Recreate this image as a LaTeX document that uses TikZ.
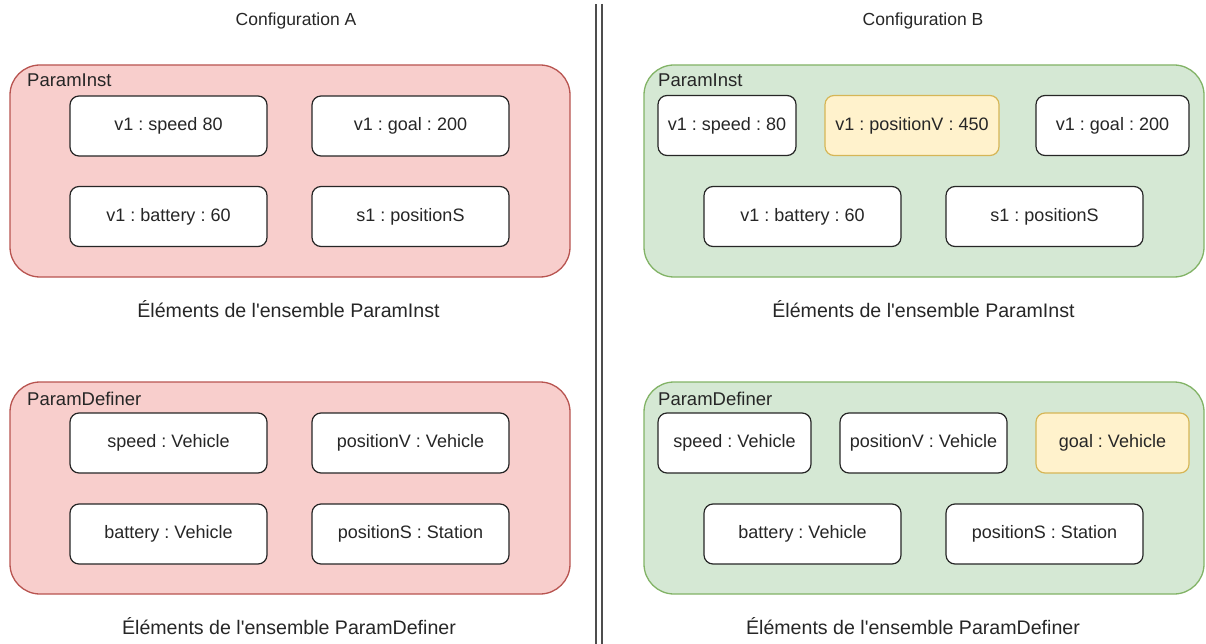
\documentclass[tikz,border=0pt]{standalone}
\usepackage{fontspec}
\setmainfont{Liberation Sans}
\usetikzlibrary{positioning}
\frenchspacing

\begin{document}
\begin{tikzpicture}[
    x=1pt, y=-1pt,
    font=\fontsize{17.5}{21}\selectfont
]

\definecolor{fillred}{HTML}{F8CECC}
\definecolor{borderred}{HTML}{B85450}

\definecolor{fillgreen}{HTML}{D5E8D4}
\definecolor{bordergreen}{HTML}{82B366}

\definecolor{fillyellow}{HTML}{FFF2CC}
\definecolor{borderyellow}{HTML}{D6B656}

\definecolor{mytext}{HTML}{262626}
\definecolor{sepline}{HTML}{4D4D4D}

\tikzset{
    panel/.style={
        rectangle,
        rounded corners=30pt,
        line width=1.3pt,
        minimum width=560pt,
        minimum height=212pt
    },
    elem/.style={
        rectangle,
        rounded corners=9pt,
        draw=mytext,
        fill=white,
        line width=1.2pt,
        minimum height=60pt,
        text=mytext,
        font=\fontsize{18}{21}\selectfont
    },
    newelem/.style={
        elem,
        draw=borderyellow,
        fill=fillyellow
    },
    tag/.style={
        anchor=base west,
        inner sep=0pt,
        text=mytext,
        font=\fontsize{18.5}{22}\selectfont
    },
    caption/.style={
        text=mytext,
        font=\fontsize{19.6}{23}\selectfont
    },
    title/.style={
        text=mytext
    }
}

\useasboundingbox (0,0) rectangle (1206,644);

% Titles
\node[title] (titleA) at (296,21) {Configuration A};
\node[title] (titleB) at (923,21) {Configuration B};

% Separator
\coordinate (sepTop) at (598.9,4);
\coordinate (sepBot) at (598.9,644);
\draw[draw=sepline, line width=2pt, double=white, double distance=4.3pt] (sepTop) -- (sepBot);

% Panels
\node[panel, draw=borderred, fill=fillred] (instA) at (290,171) {};
\node[panel, draw=borderred, fill=fillred] (defA) at (290,488) {};
\node[panel, draw=bordergreen, fill=fillgreen] (instB) at (924,171) {};
\node[panel, draw=bordergreen, fill=fillgreen] (defB) at (924,488) {};

\node[tag] (instAtag) at (27,87) {ParamInst};
\node[tag] (defAtag) at (27,405) {ParamDefiner};
\node[tag] (instBtag) at (658,87) {ParamInst};
\node[tag] (defBtag) at (658,405) {ParamDefiner};

% Configuration A, ParamInst
\node[elem, minimum width=197pt] (speedA) at (168.5,126) {v1 : speed 80};
\node[elem, minimum width=197pt] (goalA) at (410.5,126) {v1 : goal : 200};
\node[elem, minimum width=197pt] (batteryA) at (168.5,216.5) {v1 : battery : 60};
\node[elem, minimum width=197pt] (posSA) at (410.5,216.5) {s1 : positionS};

% Configuration A, ParamDefiner
\node[elem, minimum width=197pt] (speedDefA) at (168.5,443) {speed : Vehicle};
\node[elem, minimum width=197pt] (posVDefA) at (410.5,443) {positionV : Vehicle};
\node[elem, minimum width=197pt] (batteryDefA) at (168.5,534) {battery : Vehicle};
\node[elem, minimum width=197pt] (posSDefA) at (410.5,534) {positionS : Station};

% Configuration B, ParamInst
\node[elem, minimum width=138pt] (speedB) at (727,125.5) {v1 : speed : 80};
\node[newelem, minimum width=174pt] (posVB) at (912,125.5) {v1 : positionV : 450};
\node[elem, minimum width=153pt] (goalB) at (1112.5,125.5) {v1 : goal : 200};
\node[elem, minimum width=197pt] (batteryB) at (802.5,216.5) {v1 : battery : 60};
\node[elem, minimum width=197pt] (posSB) at (1044.5,216.5) {s1 : positionS};

% Configuration B, ParamDefiner
\node[elem, minimum width=153pt] (speedDefB) at (734.5,443) {speed : Vehicle};
\node[elem, minimum width=167pt] (posVDefB) at (923.5,443) {positionV : Vehicle};
\node[newelem, minimum width=153pt] (goalDefB) at (1112.5,443) {goal : Vehicle};
\node[elem, minimum width=197pt] (batteryDefB) at (802.5,534) {battery : Vehicle};
\node[elem, minimum width=197pt] (posSDefB) at (1044.5,534) {positionS : Station};

% Captions
\node[caption] (capInstA) at (288.5,309) {Éléments de l\textquotesingle ensemble ParamInst};
\node[caption] (capInstB) at (923.5,309) {Éléments de l\textquotesingle ensemble ParamInst};
\node[caption] (capDefA) at (289,626) {Éléments de l\textquotesingle ensemble ParamDefiner};
\node[caption] (capDefB) at (913,626) {Éléments de l\textquotesingle ensemble ParamDefiner};

\end{tikzpicture}
\end{document}
